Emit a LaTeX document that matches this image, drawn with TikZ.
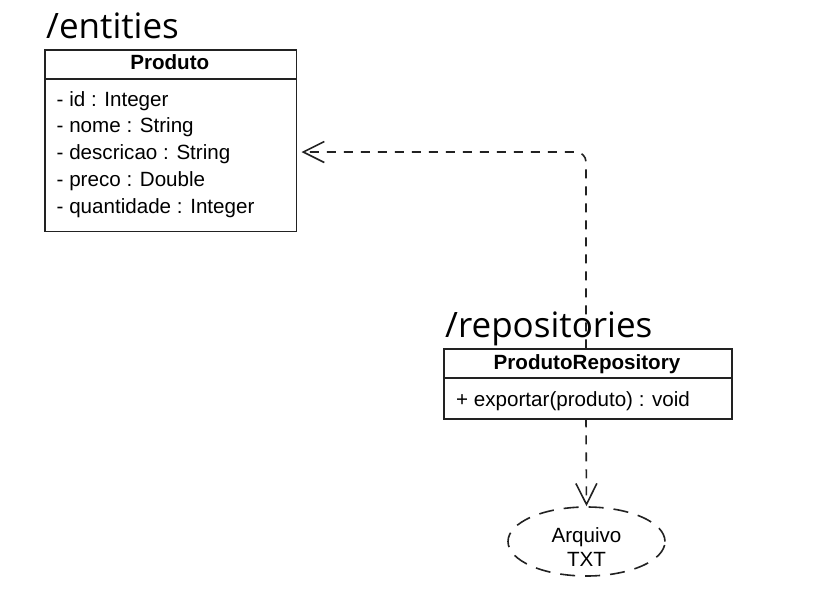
\documentclass[tikz,border=0pt]{standalone}
\usepackage{fontspec}
\setmainfont{Liberation Sans}
\newfontfamily\pkgfont{Open Sans}
\usetikzlibrary{arrows.meta,shapes.geometric}
\definecolor{linec}{HTML}{222222}
\tikzset{
  classbox/.style={draw=linec, line width=1.7pt, anchor=north west, inner sep=0pt},
  pkglabel/.style={anchor=base west, inner sep=0pt, font=\pkgfont\fontsize{35}{40}\selectfont},
  member/.style={anchor=base west, inner sep=0pt, font=\fontsize{20.6}{24}\selectfont},
  centertext/.style={anchor=base, inner sep=0pt, font=\fontsize{20.6}{24}\selectfont},
  classname/.style={anchor=base, inner sep=0pt, font=\bfseries\fontsize{20.6}{24}\selectfont},
  dep/.style={draw=linec, line width=1.6pt, dash pattern=on 9pt off 8pt, -{Straight Barb[length=21pt,width=21pt,line width=1.6pt]}},
}
\begin{document}
\begin{tikzpicture}[x=1pt,y=-1pt]
\useasboundingbox (0,0) rectangle (815,606);
% package labels
\node[pkglabel] (pkgent) at (46,38) {/entities};
\node[pkglabel] (pkgrep) at (445,337) {/repositories};
% Produto class
\node[classbox, minimum width=251.5pt, minimum height=181.5pt] (prod) at (44,49) {};
\draw[draw=linec, line width=1.7pt] (prod.north west) ++(0,30) -- ++(251.5,0);
\node[classname] (prodname) at (169.75,69) {Produto};
\node[member] (a1) at (56.5,106) {- id : Integer};
\node[member] (a2) at (56.5,132.8) {- nome : String};
\node[member] (a3) at (56.5,159.6) {- descricao : String};
\node[member] (a4) at (56.5,186.4) {- preco : Double};
\node[member] (a5) at (56.5,213.2) {- quantidade : Integer};
% ProdutoRepository class
\node[classbox, minimum width=288pt, minimum height=70pt] (repo) at (443,348.3) {};
\draw[draw=linec, line width=1.7pt] (repo.north west) ++(0,30) -- ++(288,0);
\node[classname] (reponame) at (587,369.3) {ProdutoRepository};
\node[member] (m1) at (456,406) {+ exportar(produto) : void};
% file ellipse
\node[ellipse, draw=linec, line width=1.6pt, dash pattern=on 15pt off 10pt, minimum width=157pt, minimum height=69pt, inner sep=0pt] (file) at (586.5,541.5) {};
\node[centertext] (filel1) at (586.5,542.7) {Arquivo};
\node[centertext] (filel2) at (586.5,566.7) {TXT};
% connectors
\coordinate (tipA) at (301.5,152);
\coordinate (startA) at (586,348.3);
\draw[dep, rounded corners=10pt] (startA) |- (tipA);
\coordinate (startB) at (586,418.3);
\draw[dep] (startB) -- (file.north);
\end{tikzpicture}
\end{document}
